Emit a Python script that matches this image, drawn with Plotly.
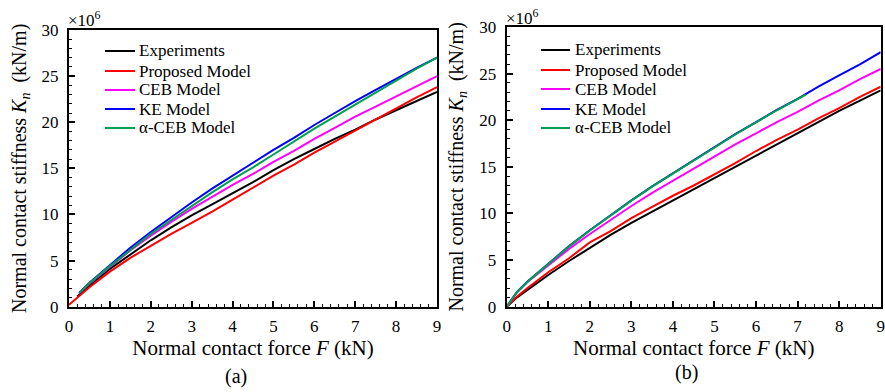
import plotly.graph_objects as go

# ---------------- data ----------------
F_grid = [0.5, 1, 1.5, 2, 2.5, 3, 3.5, 4, 4.5, 5, 5.5, 6, 6.5, 7, 7.5, 8, 8.5, 9]

# panel (a)
a_exp_F = [0.2] + F_grid
a_exp_K = [1.1, 2.3, 4.1, 5.7, 7.2, 8.6, 9.9, 11.1, 12.3, 13.5, 14.8, 16.0, 17.1, 18.2, 19.2, 20.3, 21.3, 22.3, 23.3]
a_prop_F = [0] + F_grid
a_prop_K = [0.2, 2.1, 3.8, 5.3, 6.6, 7.9, 9.1, 10.3, 11.6, 12.9, 14.2, 15.4, 16.7, 17.9, 19.1, 20.3, 21.5, 22.7, 23.8]
a_ceb_F = [0.25] + F_grid
a_ceb_K = [1.45, 2.5, 4.3, 6.1, 7.7, 9.2, 10.6, 11.9, 13.2, 14.4, 15.7, 16.9, 18.2, 19.4, 20.6, 21.7, 22.8, 23.9, 25.0]
a_ke_F = [0.25] + F_grid
a_ke_K = [1.5, 2.6, 4.5, 6.4, 8.1, 9.7, 11.3, 12.8, 14.2, 15.6, 17.0, 18.3, 19.7, 21.0, 22.3, 23.5, 24.7, 25.9, 27.0]
a_aceb_F = [0.25] + F_grid
a_aceb_K = [1.5, 2.55, 4.4, 6.2, 7.9, 9.4, 10.9, 12.4, 13.8, 15.1, 16.5, 17.9, 19.3, 20.6, 21.9, 23.2, 24.5, 25.8, 27.0]

# panel (b)
b_exp_F = [0, 0.25] + F_grid
b_exp_K = [0, 1.0, 1.8, 3.4, 4.9, 6.3, 7.7, 9.0, 10.2, 11.4, 12.6, 13.8, 15.0, 16.2, 17.4, 18.6, 19.8, 21.0, 22.1, 23.2]
b_prop_F = [0, 0.25] + F_grid
b_prop_K = [0, 1.1, 2.0, 3.7, 5.2, 6.9, 8.1, 9.5, 10.7, 11.9, 13.0, 14.2, 15.4, 16.7, 17.9, 19.0, 20.2, 21.3, 22.5, 23.6]
b_ceb_F = [0, 0.25] + F_grid
b_ceb_K = [0, 1.55, 2.65, 4.45, 6.2, 7.8, 9.3, 10.8, 12.2, 13.5, 14.8, 16.1, 17.4, 18.6, 19.8, 20.9, 22.1, 23.2, 24.4, 25.5]
b_ke_F = [0, 0.25] + F_grid
b_ke_K = [0, 1.6, 2.7, 4.6, 6.5, 8.2, 9.8, 11.4, 12.9, 14.3, 15.7, 17.1, 18.5, 19.8, 21.1, 22.3, 23.6, 24.8, 26.0, 27.3]
b_aceb_F = [0, 0.25, 0.5, 1, 1.5, 2, 2.5, 3, 3.5, 4, 4.5, 5, 5.5, 6, 6.5, 7, 7.2]
b_aceb_K = [0, 1.58, 2.68, 4.57, 6.47, 8.17, 9.77, 11.37, 12.87, 14.27, 15.67, 17.07, 18.47, 19.77, 21.07, 22.27, 22.75]

names = ["Experiments", "Proposed Model", "CEB Model", "KE Model", "\u03b1-CEB Model"]
colors = ["#000000", "#ff0000", "#ff00ff", "#0000ff", "#00a050"]

FONT = "Liberation Serif, Times New Roman, serif"

W, H = 885, 392
def px_x(v): return v / W
def px_y(v): return 1 - v / H

fig = go.Figure()

panels = [
    ("x", "y", [(a_exp_F, a_exp_K), (a_prop_F, a_prop_K), (a_ceb_F, a_ceb_K), (a_ke_F, a_ke_K), (a_aceb_F, a_aceb_K)]),
    ("x2", "y2", [(b_exp_F, b_exp_K), (b_prop_F, b_prop_K), (b_ceb_F, b_ceb_K), (b_ke_F, b_ke_K), (b_aceb_F, b_aceb_K)]),
]
for xa, ya, series in panels:
    for i in range(5):
        Fx, Ky = series[i]
        fig.add_trace(go.Scatter(
            x=Fx, y=Ky, mode="lines", name=names[i], xaxis=xa, yaxis=ya, showlegend=False,
            line=dict(color=colors[i], width=2),
        ))

axis_common = dict(
    showline=True, linewidth=2, linecolor="black", mirror=True,
    ticks="inside", ticklen=6, tickwidth=1.5, tickcolor="black",
    showgrid=False, zeroline=False, automargin=False,
    tickfont=dict(family=FONT, size=17, color="black"),
)
xminor = dict(ticks="inside", ticklen=3, tickwidth=1, tickcolor="black", dtick=0.2, showgrid=False)
yminor = dict(ticks="inside", ticklen=3, tickwidth=1, tickcolor="black", dtick=1, showgrid=False)

xtitle = dict(text="Normal contact force <i>F</i> (kN)", font=dict(family=FONT, size=21, color="black"), standoff=4)
ytitle = dict(text="Normal contact stiffness <i>K<sub>n</sub></i>  (kN/m)", font=dict(family=FONT, size=20, color="black"), standoff=10)

# manual legends (line sample + label), positions in window pixels
legend_rows_a = [51, 71, 90, 109, 128]
legend_rows_b = [50, 70, 89, 109, 128]
shapes = []
annotations = []
for rows, x0, x1, xt in [(legend_rows_a, 105, 135, 137), (legend_rows_b, 541, 570, 573)]:
    for i, yy in enumerate(rows):
        shapes.append(dict(type="line", xref="paper", yref="paper", x0=px_x(x0), x1=px_x(x1),
                           y0=px_y(yy), y1=px_y(yy), line=dict(color=colors[i], width=2)))
        annotations.append(dict(text=names[i], x=px_x(xt), y=px_y(yy), xref="paper", yref="paper",
                                showarrow=False, xanchor="left", yanchor="middle",
                                font=dict(family=FONT, size=17, color="black")))

annotations += [
    dict(text="\u00d710<sup>6</sup>", x=px_x(66), y=px_y(19), xref="paper", yref="paper", showarrow=False,
         xanchor="left", yanchor="middle", font=dict(family=FONT, size=17, color="black")),
    dict(text="\u00d710<sup>6</sup>", x=px_x(504), y=px_y(17), xref="paper", yref="paper", showarrow=False,
         xanchor="left", yanchor="middle", font=dict(family=FONT, size=17, color="black")),
    dict(text="(a)", x=px_x(236), y=px_y(376), xref="paper", yref="paper", showarrow=False,
         xanchor="center", yanchor="middle", font=dict(family=FONT, size=20, color="black")),
    dict(text="(b)", x=px_x(686), y=px_y(372), xref="paper", yref="paper", showarrow=False,
         xanchor="center", yanchor="middle", font=dict(family=FONT, size=20, color="black")),
]

fig.update_layout(
    width=W, height=H,
    margin=dict(l=0, r=0, t=0, b=0),
    paper_bgcolor="white", plot_bgcolor="white",
    font=dict(family=FONT, color="black"),
    showlegend=False,
    xaxis=dict(domain=[px_x(69), px_x(437)], range=[0, 9], dtick=1, anchor="y", title=xtitle, minor=xminor,
               ticklabelstandoff=3, **axis_common),
    yaxis=dict(domain=[px_y(306.7), px_y(30)], range=[0, 30], dtick=5, anchor="x", title=ytitle, minor=yminor,
               ticklabelstandoff=5, **axis_common),
    xaxis2=dict(domain=[px_x(506.7), px_x(880.7)], range=[0, 9], dtick=1, anchor="y2", title=xtitle, minor=xminor,
                ticklabelstandoff=3, **axis_common),
    yaxis2=dict(domain=[px_y(306.7), px_y(27)], range=[0, 30], dtick=5, anchor="x2", title=ytitle, minor=yminor,
                ticklabelstandoff=5, **axis_common),
    shapes=shapes,
    annotations=annotations,
)

fig.write_html(
    "out.html",
    config={"displayModeBar": False},
    post_script="document.body.style.margin='0';document.body.style.overflow='hidden';",
)
